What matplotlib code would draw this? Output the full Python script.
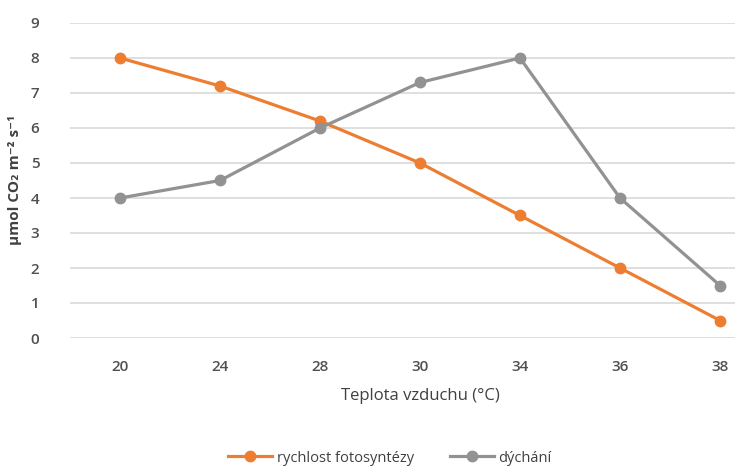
import numpy as np
import matplotlib.pyplot as plt

# data
teploty = ['20', '24', '28', '30', '34', '36', '38']
fotosynteza = [8, 7.2, 6.2, 5, 3.5, 2, 0.5]
dychani = [4, 4.5, 6, 7.3, 8, 4, 1.5]

plt.rcParams['font.family'] = ['Open Sans', 'DejaVu Sans']

if __name__ == '__main__':
    fig = plt.figure(figsize=(7.35, 4.68), dpi=100)
    ax = fig.add_axes([70 / 735, 130 / 468, 700 / 735, 315 / 468])

    x = np.arange(len(teploty))
    ax.plot(x, fotosynteza, color='#ED7D31', linewidth=2.3, marker='o',
            markersize=7.5, label='rychlost fotosyntézy', zorder=3)
    ax.plot(x, dychani, color='#929292', linewidth=2.3, marker='o',
            markersize=7.5, label='dýchání', zorder=3)

    ax.set_xlim(-0.5, len(teploty) - 0.5)
    ax.set_ylim(0, 9)
    ax.set_yticks(range(10))
    ax.set_xticks(x)
    ax.set_xticklabels(teploty)
    ax.grid(axis='y', color='#d9d9d9', linewidth=1.2)
    ax.set_axisbelow(True)
    for s in ax.spines.values():
        s.set_visible(False)
    ax.tick_params(length=0, labelsize=11, colors='#505050')
    ax.tick_params(axis='y', pad=22)
    ax.tick_params(axis='x', pad=16)
    for lab in ax.get_xticklabels() + ax.get_yticklabels():
        lab.set_fontweight('semibold')

    ax.set_xlabel('Teplota vzduchu (°C)', fontsize=12, color='#404040', labelpad=10)
    ax.set_ylabel('μmol CO₂ m⁻² s⁻¹', fontsize=11, color='#404040',
                  labelpad=6, fontweight='bold')

    fig.legend(loc='center', bbox_to_anchor=(390 / 735, 1 - 458 / 468), ncol=2,
               frameon=False, fontsize=10.5, labelcolor='#404040',
               handlelength=3, columnspacing=2.5, handletextpad=0.3)

    plt.savefig('out.png')
